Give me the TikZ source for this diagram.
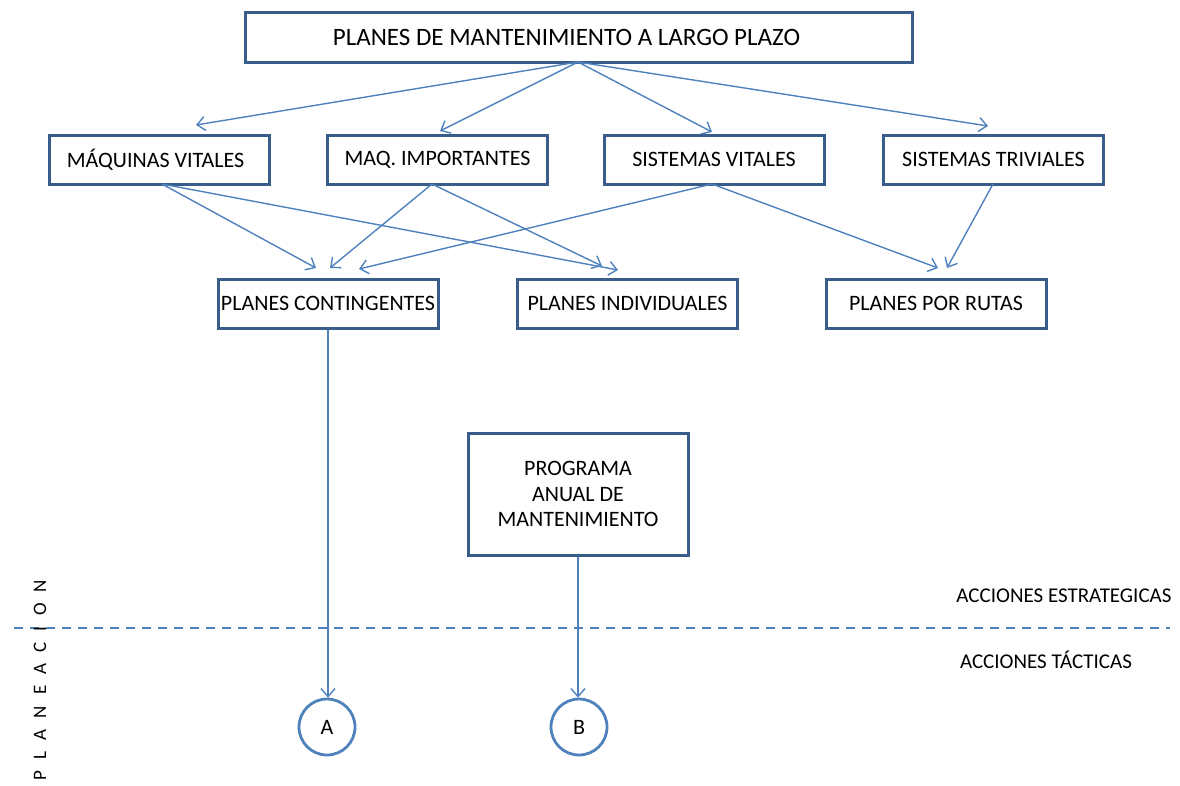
\documentclass[tikz,border=0pt]{standalone}
\usepackage{fontspec}
\setmainfont{Carlito}
\usetikzlibrary{arrows.meta}
\definecolor{boxline}{RGB}{56,93,138}
\definecolor{linkline}{RGB}{79,129,189}
\tikzset{
  box/.style={draw=boxline, line width=3pt, fill=white, minimum width=220pt,
    minimum height=49pt, inner sep=2pt, font=\fontsize{22}{25.5}\selectfont, align=center},
  link/.style={draw=linkline, line width=1.4pt, -{Straight Barb[length=8pt,width=14pt,line width=1.4pt]}},
  tag/.style={font=\fontsize{21}{25}\selectfont},
  mark circle/.style={circle, draw=linkline, line width=2.8pt, minimum size=56pt, inner sep=0pt,
    font=\fontsize{22}{26}\selectfont}
}
\begin{document}
\begin{tikzpicture}[x=1pt,y=-1pt]
\useasboundingbox (0,0) rectangle (1180,785);

% top level
\node[box, minimum width=667pt, minimum height=50pt, font=\fontsize{25}{30}\selectfont] (top) at (578.5,37) {PLANES DE MANTENIMIENTO A LARGO PLAZO\hspace*{24pt}};

% second level
\node[box] (mv) at (159.5,159.5) {MÁQUINAS VITALES\hspace*{8pt}};
\node[box] (mi) at (437.5,159.5) {MAQ. IMPORTANTES};
\node[box] (sv) at (714,159.5) {SISTEMAS VITALES};
\node[box] (st) at (993.5,159.5) {SISTEMAS TRIVIALES};

% third level
\node[box] (pc) at (328,303.5) {PLANES CONTINGENTES};
\node[box] (pi) at (627.5,303.5) {PLANES INDIVIDUALES};
\node[box] (pr) at (936,303.5) {PLANES POR RUTAS};

% annual programme
\node[box, minimum height=122pt] (pa) at (578,494) {PROGRAMA\\ANUAL DE\\MANTENIMIENTO};

% connector points
\coordinate (topb) at (578,62);
\coordinate (t1) at (196,125);
\coordinate (t2) at (440,131);
\coordinate (t3) at (712,132);
\coordinate (t4) at (988,126);
\coordinate (mvb) at (162,184);
\coordinate (mib) at (432,184);
\coordinate (svb) at (712,184);
\coordinate (stb) at (993,184);
\coordinate (c1) at (316,268);
\coordinate (c2) at (330,268);
\coordinate (c3) at (359,269);
\coordinate (i1) at (618,270);
\coordinate (i2) at (602,266);
\coordinate (r1) at (938,268);
\coordinate (r2) at (947,268);

\draw[link] (topb) -- (t1);
\draw[link] (topb) -- (t2);
\draw[link] (topb) -- (t3);
\draw[link] (topb) -- (t4);
\draw[link] (mvb) -- (c1);
\draw[link] (mvb) -- (i1);
\draw[link] (mib) -- (c2);
\draw[link] (mib) -- (i2);
\draw[link] (svb) -- (c3);
\draw[link] (svb) -- (r1);
\draw[link] (stb) -- (r2);

% tactical markers
\node[mark circle] (A) at (327,727) {A};
\node[mark circle] (B) at (579,727) {B};
\draw[link] (pc.south) -- (pc.south |- A.north);
\draw[link] (pa.south) -- (pa.south |- B.north);

% boundary between strategic and tactical actions
\coordinate (dl) at (14,628);
\coordinate (dr) at (1170,628);
\draw[linkline, line width=2pt, dash pattern=on 9pt off 7pt] (dl) -- (dr);
\node[tag] (est) at (1064,596) {ACCIONES ESTRATEGICAS};
\node[tag] (tac) at (1046,660) {ACCIONES TÁCTICAS};

\node[rotate=90, font=\fontsize{19}{22}\selectfont] (plan) at (40,680) {{\spaceskip=11pt P L A N E A C I O N}};
\end{tikzpicture}
\end{document}
